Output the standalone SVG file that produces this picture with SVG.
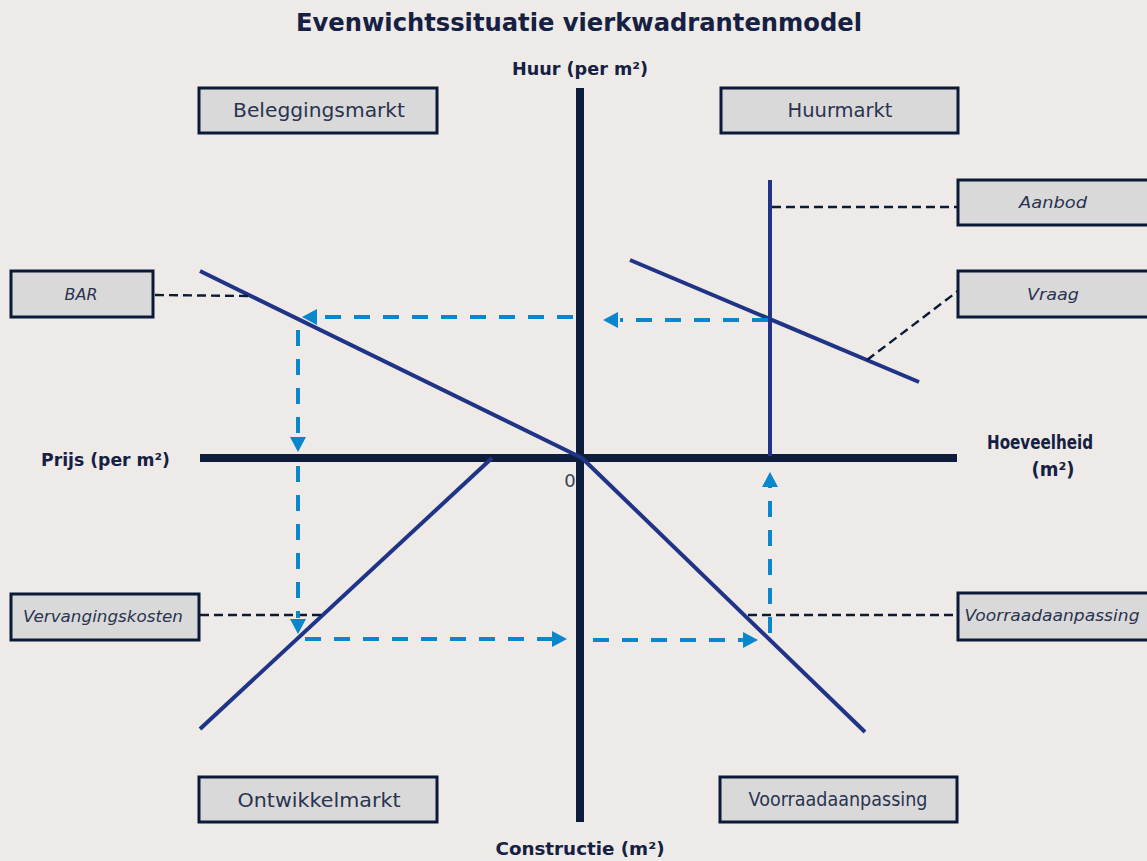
<svg xmlns="http://www.w3.org/2000/svg" width="1147" height="861" viewBox="0 0 1147 861">
  <defs>
    <style>
      .bg { fill: #EDEAE7; }
      .box { fill: #D9D9D9; stroke: #0B1A38; stroke-width: 3; }
      .axis { stroke: #0F1D3D; stroke-width: 8; fill: none; }
      .curve { stroke: #1F3487; stroke-width: 4; fill: none; stroke-linecap: butt; }
      .leader { stroke: #0B1A38; stroke-width: 2.4; fill: none; stroke-dasharray: 9 5; }
      .flow { stroke: #0A86CC; stroke-width: 4; fill: none; stroke-dasharray: 16 13; }
      .head { fill: #0A86CC; }
      .title { font-family: "DejaVu Sans", "Liberation Sans", sans-serif; font-weight: bold; font-size: 25px; fill: #152042; }
      .axlabel { font-family: "DejaVu Sans", "Liberation Sans", sans-serif; font-weight: bold; font-size: 17px; fill: #152042; }
      .axlabel.big { font-size: 19px; }
      .lbl { font-family: "DejaVu Sans", "Liberation Sans", sans-serif; font-size: 19px; fill: #2A3350; text-anchor: middle; }
      .ilbl { font-family: "DejaVu Sans", "Liberation Sans", sans-serif; font-style: italic; font-size: 15.5px; fill: #2A3350; text-anchor: middle; }
    </style>
  </defs>

  <rect class="bg" x="0" y="0" width="1147" height="861"/>

  <!-- Title and axis labels -->
  <text class="title" x="579" y="31" text-anchor="middle" textLength="566" lengthAdjust="spacingAndGlyphs">Evenwichtssituatie vierkwadrantenmodel</text>
  <text class="axlabel" x="580" y="75" text-anchor="middle" textLength="136" lengthAdjust="spacingAndGlyphs">Huur (per m²)</text>
  <text class="axlabel" x="170" y="466" text-anchor="end" textLength="129" lengthAdjust="spacingAndGlyphs">Prijs (per m²)</text>
  <text class="axlabel big" x="1040" y="449" text-anchor="middle" textLength="106" lengthAdjust="spacingAndGlyphs">Hoeveelheid</text>
  <text class="axlabel big" x="1053" y="476" text-anchor="middle" textLength="43" lengthAdjust="spacingAndGlyphs">(m²)</text>
  <text class="axlabel" x="580" y="855" text-anchor="middle" textLength="169" lengthAdjust="spacingAndGlyphs">Constructie (m²)</text>
  <text x="570" y="487" font-family="DejaVu Sans, Liberation Sans, sans-serif" font-size="18" fill="#3A4257" text-anchor="middle">0</text>

  <!-- Axes -->
  <g id="axes">
    <line class="axis" x1="580" y1="88" x2="580" y2="822"/>
    <line class="axis" x1="200" y1="458" x2="957" y2="458"/>
  </g>

  <!-- Market curves -->
  <g id="curves">
    <line id="bar-line" class="curve" x1="200" y1="271" x2="582" y2="458"/>
    <line id="vraag-line" class="curve" x1="630" y1="260" x2="919" y2="382"/>
    <line id="aanbod-line" class="curve" x1="770" y1="180" x2="770" y2="456"/>
    <line id="ontwikkel-line" class="curve" x1="200" y1="729" x2="492" y2="458"/>
    <line id="voorraad-line" class="curve" x1="582" y1="458" x2="865" y2="732"/>
  </g>

  <!-- Connectors: leader lines and equilibrium flow -->
  <g id="connectors">
    <line class="leader" x1="772" y1="207" x2="958" y2="207"/>
    <line class="leader" x1="867" y1="360" x2="958" y2="291"/>
    <line class="leader" x1="155" y1="295" x2="250" y2="296"/>
    <line class="leader" x1="200" y1="615" x2="325" y2="615"/>
    <line class="leader" x1="748" y1="615" x2="958" y2="615"/>

    <!-- rent level carried to the left -->
    <line class="flow" x1="768" y1="320" x2="620" y2="320"/>
    <polygon class="head" points="603,320 618,312 618,328"/>
    <line class="flow" x1="573" y1="317" x2="318" y2="317"/>
    <polygon class="head" points="302,317 317,309 317,325"/>
    <!-- price carried down -->
    <line class="flow" x1="298" y1="330" x2="298" y2="437"/>
    <polygon class="head" points="298,452 290,437 306,437"/>
    <line class="flow" x1="298" y1="466" x2="298" y2="618"/>
    <polygon class="head" points="298,634 290,619 306,619"/>
    <!-- construction carried right -->
    <line class="flow" x1="305" y1="639" x2="552" y2="639"/>
    <polygon class="head" points="567,639 552,631 552,647"/>
    <line class="flow" x1="593" y1="640" x2="743" y2="640"/>
    <polygon class="head" points="758,640 743,632 743,648"/>
    <!-- stock carried up -->
    <line class="flow" x1="770" y1="633" x2="770" y2="487"/>
    <polygon class="head" points="770,472 762,487 778,487"/>
  </g>

  <!-- Quadrant titles -->
  <g id="beleggingsmarkt">
    <rect class="box" x="199" y="88" width="238" height="45"/>
    <text class="lbl" x="319" y="117" textLength="172" lengthAdjust="spacingAndGlyphs">Beleggingsmarkt</text>
  </g>
  <g id="huurmarkt">
    <rect class="box" x="721" y="88" width="237" height="45"/>
    <text class="lbl" x="840" y="117" textLength="105" lengthAdjust="spacingAndGlyphs">Huurmarkt</text>
  </g>
  <g id="ontwikkelmarkt">
    <rect class="box" x="199" y="777" width="238" height="45"/>
    <text class="lbl" x="319" y="807" textLength="163" lengthAdjust="spacingAndGlyphs">Ontwikkelmarkt</text>
  </g>
  <g id="voorraadaanpassing-kwadrant">
    <rect class="box" x="720" y="777" width="237" height="45"/>
    <text class="lbl" x="838" y="806" textLength="179" lengthAdjust="spacingAndGlyphs">Voorraadaanpassing</text>
  </g>

  <!-- Curve labels -->
  <g id="aanbod">
    <rect class="box" x="958" y="180" width="191" height="45"/>
    <text class="ilbl" x="1053" y="208" textLength="68" lengthAdjust="spacingAndGlyphs">Aanbod</text>
  </g>
  <g id="vraag">
    <rect class="box" x="958" y="271" width="191" height="46"/>
    <text class="ilbl" x="1053" y="300" textLength="52" lengthAdjust="spacingAndGlyphs">Vraag</text>
  </g>
  <g id="bar">
    <rect class="box" x="11" y="271" width="142" height="46"/>
    <text class="ilbl" x="81" y="300" textLength="33" lengthAdjust="spacingAndGlyphs">BAR</text>
  </g>
  <g id="vervangingskosten">
    <rect class="box" x="11" y="594" width="188" height="46"/>
    <text class="ilbl" x="103" y="622" textLength="160" lengthAdjust="spacingAndGlyphs">Vervangingskosten</text>
  </g>
  <g id="voorraadaanpassing">
    <rect class="box" x="958" y="593" width="191" height="47"/>
    <text class="ilbl" x="1052" y="621" textLength="175" lengthAdjust="spacingAndGlyphs">Voorraadaanpassing</text>
  </g>
</svg>
